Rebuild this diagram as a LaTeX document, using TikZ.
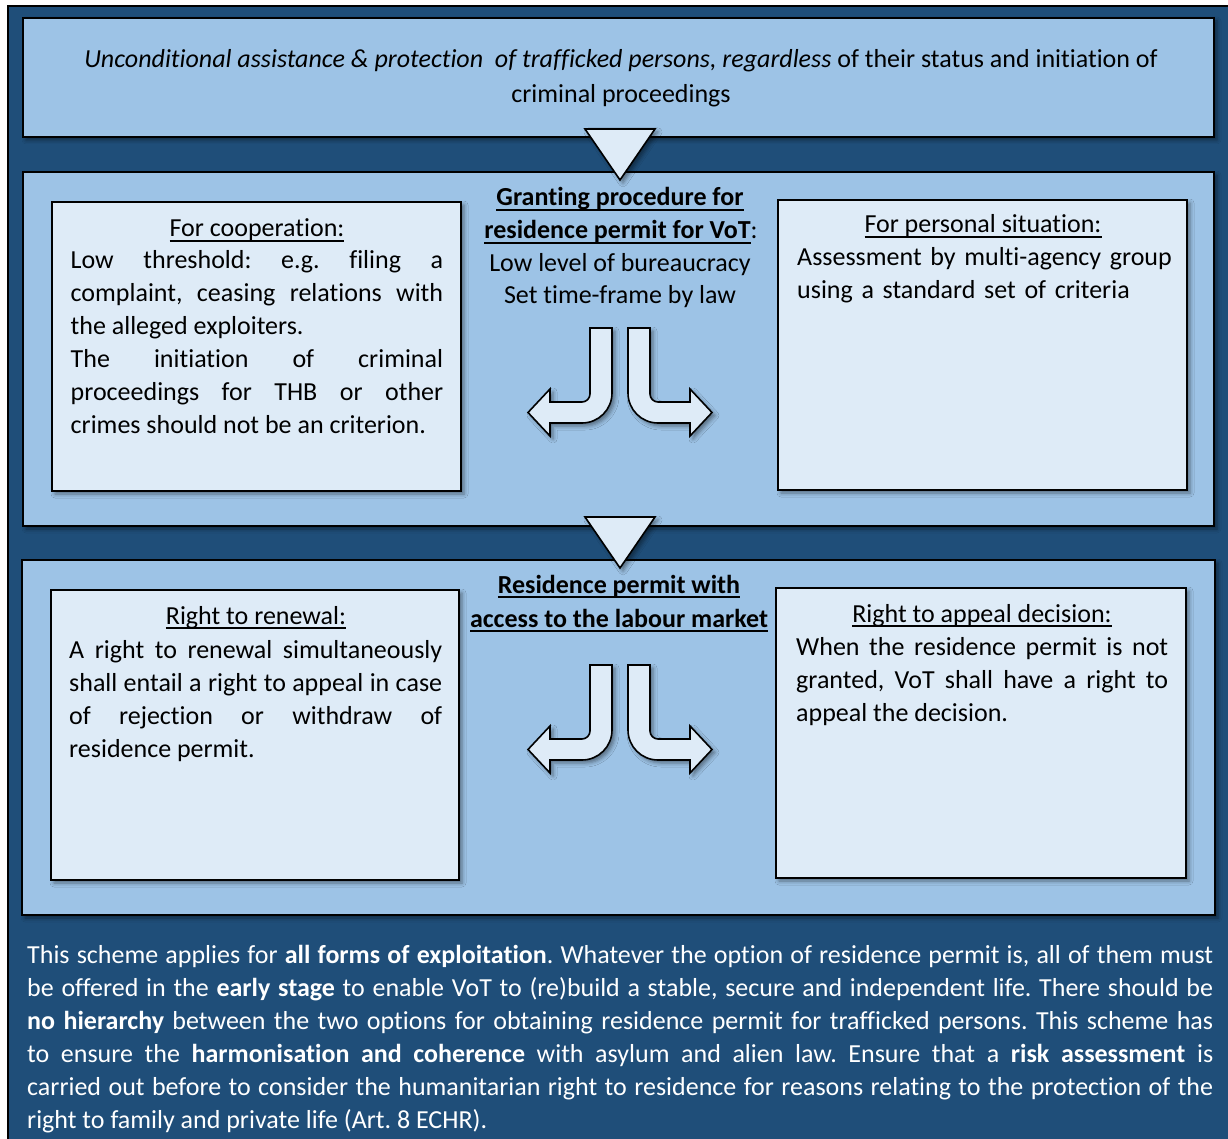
\documentclass[tikz,border=0pt]{standalone}
\usepackage{fontspec}
\setmainfont{Carlito}[Ligatures={NoCommon,NoRare,NoContextual},Contextuals=NoAlternate]
\usetikzlibrary{shadows.blur}
\definecolor{dkblue}{RGB}{31,78,121}
\definecolor{ltblue}{RGB}{157,195,230}
\definecolor{paleblue}{RGB}{222,235,247}
\newcommand\myul[1]{\setbox0\hbox{#1}\rlap{\rule[-5pt]{\wd0}{1.6pt}}\box0}
\hyphenpenalty=10000
\exhyphenpenalty=10000
\tolerance=10000
\frenchspacing
\begin{document}
\begin{tikzpicture}[x=1pt,y=-1pt,
  shad/.style={blur shadow={shadow xshift=3pt,shadow yshift=-3pt,shadow blur radius=4pt,shadow opacity=45}},
  panel/.style={draw=black,line width=1.6pt,fill=ltblue,shad},
  inbox/.style={draw=black,line width=1.6pt,fill=paleblue,shad},
  tri/.style={draw=black,line width=1.6pt,fill=paleblue,line join=miter,shad},
  bent/.style={draw=black,line width=1.6pt,fill=paleblue,line join=miter,shad},
  head/.style={anchor=base,inner sep=0pt,font=\fontsize{26}{33}\selectfont},
  bodytext/.style={anchor=base west,inner sep=0pt,font=\fontsize{26}{33}\selectfont,align=justify}]
\useasboundingbox (0,0) rectangle (1228,1139);
\fill[white] (0,0) rectangle (1228,1139);
\draw[line width=1.6pt,fill=dkblue] (8,6) rectangle (1240,1150);
% panels
\draw[panel] (23,18) rectangle (1214,137);
\draw[panel] (23,172) rectangle (1214,526);
\draw[panel] (22,560) rectangle (1215,915);
% inner boxes
\draw[inbox] (52,202) rectangle (461,491);
\draw[inbox] (778,200) rectangle (1187,490);
\draw[inbox] (51,590) rectangle (459,880);
\draw[inbox] (776,588) rectangle (1186,878);
% triangles
\draw[tri] (585,129) -- (655,129) -- (620,180) -- cycle;
\draw[tri] (585,517) -- (655,517) -- (620,568) -- cycle;
% bent arrows
\foreach \dy in {0,337}{
\begin{scope}[shift={(0,\dy)}]
\draw[bent] (590,328) -- (612,328) -- (612,393) .. controls (612,409.6) and (598.6,423) .. (582,423) -- (550,423) -- (550,436) -- (528,412.5) -- (550,389) -- (550,402) -- (582,402) .. controls (586.4,402) and (590,398.4) .. (590,394) -- cycle;
\draw[bent] (650,328) -- (628,328) -- (628,393) .. controls (628,409.6) and (641.4,423) .. (658,423) -- (690,423) -- (690,436) -- (712,412.5) -- (690,389) -- (690,402) -- (658,402) .. controls (653.6,402) and (650,398.4) .. (650,394) -- cycle;
\end{scope}}
% top text
\node[head] (top1) at (621,68) {\textit{Unconditional assistance \& protection\ \ of trafficked persons, regardless} of their status and initiation of};
\node[head] (top2) at (621,103) {criminal proceedings};
% middle heading
\node[head] (g1) at (620,206) {\myul{\textbf{Granting procedure for}}};
\node[head] (g2) at (621,239) {\myul{\textbf{residence permit for VoT}}:};
\node[head] (g3) at (620,272) {Low level of bureaucracy};
\node[head] (g4) at (620,304) {Set time-frame by law};
% bottom heading
\node[head] (r1) at (619,593) {\myul{\textbf{Residence permit with}}};
\node[head] (r2) at (619,627) {\myul{\textbf{access to the labour market}}};
% box headers
\node[head] (h1) at (257,237) {\myul{For cooperation:}};
\node[head] (h2) at (983,233) {\myul{For personal situation:}};
\node[head] (h3) at (256,624) {\myul{Right to renewal:}};
\node[head] (h4) at (982,622) {\myul{Right to appeal decision:}};
% box bodies
\node[bodytext,text width=372.5pt] (b1) at (70.5,269) {Low threshold: e.g. filing a\linebreak complaint, ceasing relations with\linebreak the alleged exploiters.\par The initiation of criminal\linebreak proceedings for THB or other\linebreak crimes should not be an criterion.};
\node[bodytext,text width=375pt,align=left] (b2) at (797,266) {Assessment by multi-agency group\\using a standard set of criteria};
\node[bodytext,text width=373pt] (b3) at (69,658) {A right to renewal simultaneously\linebreak shall entail a right to appeal in case\linebreak of rejection or withdraw of\linebreak residence permit.};
\node[bodytext,text width=372pt] (b4) at (796,655) {When the residence permit is not\linebreak granted, VoT shall have a right to\linebreak appeal the decision.};
% bottom text
\node[bodytext,text width=1186pt,text=white] (foot) at (27,963) {This scheme applies for \textbf{all forms of exploitation}. Whatever the option of residence permit is, all of them must\linebreak be offered in the \textbf{early stage} to enable VoT to (re)build a stable, secure and independent life. There should be\linebreak \textbf{no hierarchy} between the two options for obtaining residence permit for trafficked persons. This scheme has\linebreak to ensure the \textbf{harmonisation and coherence} with asylum and alien law. Ensure that a \textbf{risk assessment} is\linebreak carried out before to consider the humanitarian right to residence for reasons relating to the protection of the\linebreak right to family and private life (Art. 8 ECHR).};
\end{tikzpicture}
\end{document}
